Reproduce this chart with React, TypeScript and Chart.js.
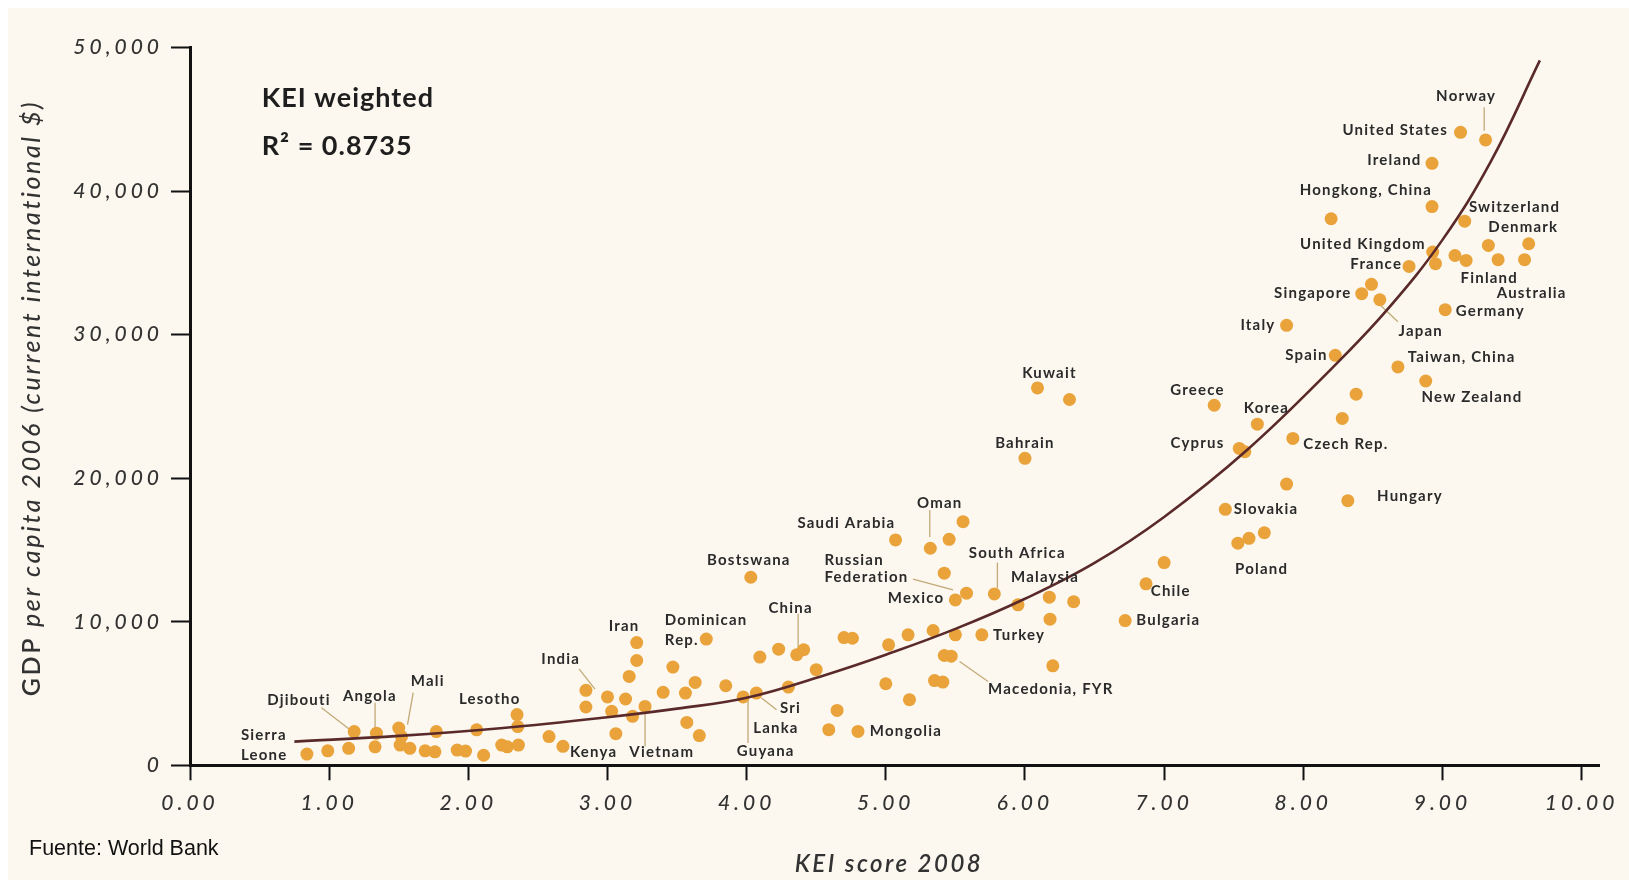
import React, { useEffect, useRef } from 'react';
import { Chart, registerables } from 'chart.js';

Chart.register(...registerables);

// ---------- DATA ----------
const keiScore = [
  0.84, 0.99, 1.14, 1.18, 1.33, 1.34, 1.50, 1.52, 1.51, 1.58,
  1.69, 1.76, 1.77, 1.92, 1.98, 2.06, 2.11, 2.24, 2.28, 2.35,
  2.355, 2.36, 2.58, 2.68, 2.845, 2.845, 3.00, 3.03, 3.06, 3.13,
  3.18, 3.27, 3.156, 3.21, 3.21, 3.40, 3.47, 3.56, 3.63, 3.57,
  3.66, 3.71, 3.85, 3.975, 4.07, 4.03, 4.095, 4.23, 4.36, 4.41,
  4.50, 4.30, 4.59, 4.65, 4.80, 4.70, 4.76, 5.00, 5.02, 5.16,
  5.17, 5.34, 5.35, 5.41, 5.42, 5.47, 5.50, 5.69, 5.50, 5.58,
  5.42, 5.07, 5.32, 5.455, 5.555, 5.78, 5.95, 6.00, 6.09, 6.32,
  6.175, 6.35, 6.18, 6.20, 6.72, 6.87, 7.00, 7.36, 7.44, 7.53,
  7.61, 7.72, 7.54, 7.58, 7.67, 7.88, 7.925, 8.28, 8.38, 8.32,
  8.23, 7.88, 8.68, 8.88, 8.49, 8.42, 8.55, 8.76, 8.93, 8.95,
  9.02, 9.09, 9.17, 9.33, 9.40, 9.62, 9.59, 9.16, 8.20, 8.925,
  8.925, 9.13, 9.31,
];

const gdpPerCapita = [
  780, 1010, 1180, 2350, 1290, 2240, 2590, 2000, 1410, 1180,
  1010, 940, 2350, 1060, 990, 2470, 700, 1410, 1290, 3530,
  2700, 1410, 2000, 1320, 5220, 4060, 4760, 3760, 2200, 4620,
  3410, 4100, 6190, 7300, 8550, 5080, 6840, 5030, 5770, 2990,
  2070, 8790, 5540, 4760, 5030, 13100, 7540, 8090, 7700, 8050,
  6660, 5450, 2480, 3820, 2360, 8900, 8850, 5680, 8390, 9090,
  4570, 9390, 5900, 5800, 7650, 7600, 9090, 9090, 11520, 11990,
  13380, 15700, 15120, 15740, 16970, 11940, 11180, 21380, 26290, 25480,
  11710, 11400, 10180, 6930, 10080, 12640, 14120, 25080, 17830, 15470,
  15810, 16200, 22070, 21840, 23760, 19590, 22770, 24160, 25850, 18430,
  28560, 30650, 27750, 26770, 33500, 32850, 32430, 34750, 35750, 34940,
  31740, 35510, 35170, 36210, 35220, 36330, 35220, 37900, 38070, 38920,
  41930, 44090, 43560,
];

// trend curve
const trendKei = [0.75, 1.5, 2.25, 3.0, 3.5, 4.0, 4.6, 5.0, 5.5, 6.0, 6.5, 7.0, 7.6, 8.2, 8.6, 9.0, 9.35, 9.7];
const trendGdp = [1650, 2050, 2600, 3350, 3950, 4700, 6400, 7700, 9500, 11600, 14100, 17300, 22000, 27600, 31700, 36600, 42100, 49100];

const xTickValues = [0, 1, 2, 3, 4, 5, 6, 7, 8, 9, 10];
const yTickValues = [0, 10000, 20000, 30000, 40000, 50000];

const labelText = [
  'Sierra', 'Leone', 'Djibouti', 'Angola', 'Mali', 'Lesotho', 'India', 'Kenya', 'Vietnam', 'Iran',
  'Dominican', 'Rep.', 'Bostswana', 'China', 'Sri', 'Lanka', 'Guyana', 'Mongolia', 'Saudi Arabia', 'Oman',
  'Russian', 'Federation', 'Mexico', 'South Africa', 'Malaysia', 'Turkey', 'Macedonia, FYR', 'Kuwait', 'Bahrain', 'Chile',
  'Bulgaria', 'Greece', 'Korea', 'Cyprus', 'Czech Rep.', 'Slovakia', 'Hungary', 'Poland', 'Spain', 'Italy',
  'Taiwan, China', 'New Zealand', 'Japan', 'Singapore', 'Germany', 'Australia', 'Finland', 'France', 'United Kingdom', 'Denmark',
  'Switzerland', 'Hongkong, China', 'Ireland', 'United States', 'Norway',
];
const labelKei = [
  0.366, 0.366, 0.783, 1.292, 1.708, 2.154, 2.664, 2.73, 3.39, 3.12,
  3.412, 3.412, 4.016, 4.316, 4.24, 4.047, 4.137, 4.885, 4.717, 5.388,
  4.56, 4.56, 5.42, 5.945, 5.90, 5.77, 5.735, 6.176, 6.0, 6.904,
  6.80, 7.24, 7.735, 7.24, 8.0, 7.50, 8.53, 7.51, 8.175, 7.80,
  8.75, 8.85, 8.685, 8.346, 9.095, 9.39, 9.13, 8.71, 8.88, 9.33,
  9.19, 8.45, 8.85, 9.04, 9.17,
];
const labelGdp = [
  2080, 716, 4520, 4830, 5890, 4590, 7400, 900, 900, 9710,
  10130, 8740, 14300, 10950, 3990, 2600, 970, 2360, 16900, 18290,
  14300, 13100, 11640, 14770, 13100, 9090, 5310, 27330, 22420, 12100,
  10080, 26130, 24850, 22420, 22370, 17830, 18760, 13660, 28560, 30650,
  28420, 25660, 30250, 32870, 31640, 32870, 33920, 34890, 36280, 37460,
  38870, 40030, 42120, 44210, 46640,
];
const labelAlign = [
  'left', 'left', 'center', 'center', 'center', 'center', 'center', 'left', 'center', 'center',
  'left', 'left', 'center', 'center', 'left', 'left', 'center', 'left', 'center', 'center',
  'left', 'left', 'right', 'center', 'left', 'left', 'left', 'center', 'center', 'left',
  'left', 'center', 'center', 'center', 'left', 'left', 'left', 'left', 'right', 'right',
  'left', 'left', 'left', 'right', 'left', 'left', 'left', 'right', 'right', 'left',
  'left', 'center', 'right', 'right', 'center',
];

// leader lines: from (kei, gdp) to (kei, gdp)
const leaderFromKei = [0.945, 1.33, 1.604, 2.797, 3.27, 4.107, 4.01, 4.37, 5.316, 5.196, 5.802, 5.53, 8.56, 9.30];
const leaderFromGdp = [4010, 4360, 5060, 6700, 3760, 4690, 4570, 10550, 17780, 12960, 14120, 7230, 32000, 45830];
const leaderToKei = [1.15, 1.33, 1.563, 2.91, 3.27, 4.215, 4.01, 4.37, 5.316, 5.483, 5.802, 5.735, 8.68, 9.30];
const leaderToGdp = [2480, 2480, 2830, 5310, 1320, 3870, 1560, 7930, 15900, 12220, 12340, 5840, 30900, 44200];

// ---------- STYLE ----------
const CANVAS_W = 1621;
const CANVAS_H = 872;
const CREAM = '#FCF8EF';
const DOT = '#E9A33A';
const TREND = '#5A2A2A';
const INK = '#2B2B2B';
const AXIS = '#111111';

const decorPlugin = {
  id: 'decor',
  beforeDraw(chart: any) {
    const { ctx, width, height } = chart;
    ctx.save();
    ctx.fillStyle = CREAM;
    ctx.fillRect(0, 0, width, height);
    ctx.restore();
    ctx.letterSpacing = '4px';
  },
  beforeDatasetsDraw(chart: any) {
    const { ctx } = chart;
    ctx.letterSpacing = '0px';
    const xs = chart.scales.x;
    const ys = chart.scales.y;
    ctx.save();
    ctx.strokeStyle = '#C2AA78';
    ctx.lineWidth = 1.3;
    for (let i = 0; i < leaderFromKei.length; i++) {
      ctx.beginPath();
      ctx.moveTo(xs.getPixelForValue(leaderFromKei[i]), ys.getPixelForValue(leaderFromGdp[i]));
      ctx.lineTo(xs.getPixelForValue(leaderToKei[i]), ys.getPixelForValue(leaderToGdp[i]));
      ctx.stroke();
    }
    ctx.restore();
  },
  afterDatasetsDraw(chart: any) {
    const { ctx } = chart;
    const xs = chart.scales.x;
    const ys = chart.scales.y;
    ctx.save();
    // country labels
    ctx.font = '700 15px Lato';
    ctx.fillStyle = INK;
    ctx.textBaseline = 'middle';
    ctx.letterSpacing = '1.2px';
    for (let i = 0; i < labelText.length; i++) {
      ctx.textAlign = labelAlign[i] as CanvasTextAlign;
      ctx.fillText(labelText[i], xs.getPixelForValue(labelKei[i]), ys.getPixelForValue(labelGdp[i]));
    }
    // annotation
    ctx.textAlign = 'left';
    ctx.font = '700 27px Lato';
    ctx.letterSpacing = '1px';
    ctx.fillStyle = '#1E1E1E';
    ctx.fillText('KEI weighted', 253.7, 90.3);
    ctx.fillText('R\u00B2 = 0.8735', 253.7, 138.7);

    // x title
    ctx.font = 'italic 600 24px Lato';
    ctx.letterSpacing = '2.5px';
    ctx.fillStyle = '#333333';
    ctx.textAlign = 'center';
    ctx.fillText('KEI score 2008', 881, 856);

    // y title (GDP upright, rest italic)
    ctx.translate(24, 390);
    ctx.rotate(-Math.PI / 2);
    const partA = 'GDP ';
    const partB = 'per capita 2006 (current international $)';
    ctx.letterSpacing = '2.6px';
    ctx.font = '600 25px Lato';
    const wA = ctx.measureText(partA).width;
    ctx.font = 'italic 500 25px Lato';
    const wB = ctx.measureText(partB).width;
    const start = -(wA + wB) / 2;
    ctx.textAlign = 'left';
    ctx.fillStyle = '#333333';
    ctx.font = '600 25px Lato';
    ctx.fillText(partA, start, 0);
    ctx.font = 'italic 500 25px Lato';
    ctx.fillText(partB, start + wA, 0);
    ctx.restore();

    // source note
    ctx.save();
    ctx.letterSpacing = '0px';
    ctx.font = '21.5px "Liberation Sans", Arial, sans-serif';
    ctx.fillStyle = '#111';
    ctx.textAlign = 'left';
    ctx.textBaseline = 'middle';
    ctx.fillText('Fuente: World Bank', 21, 841);
    ctx.restore();
  },
};

export default function App() {
  const canvasRef = useRef<HTMLCanvasElement | null>(null);

  useEffect(() => {
    const canvas = canvasRef.current;
    if (!canvas) return;

    const points = keiScore.map((k, i) => ({ x: k, y: gdpPerCapita[i] }));
    const trend = trendKei.map((k, i) => ({ x: k, y: trendGdp[i] }));

    const chart = new Chart(canvas, {
      type: 'scatter',
      data: {
        datasets: [
          {
            label: 'Trend',
            data: trend,
            showLine: true,
            borderColor: TREND,
            borderWidth: 2.6,
            pointRadius: 0,
            pointHoverRadius: 0,
            tension: 0.4,
            fill: false,
            order: 0,
          } as any,
          {
            label: 'Countries',
            data: points,
            pointRadius: 6.5,
            pointHoverRadius: 6.5,
            pointBackgroundColor: DOT,
            pointBorderWidth: 0,
            backgroundColor: DOT,
            borderColor: DOT,
            order: 1,
          } as any,
        ],
      },
      options: {
        animation: false,
        responsive: false,
        devicePixelRatio: 1,
        events: [],
        layout: { padding: { left: 0, right: 29.3, top: 39.5, bottom: 0 } },
        plugins: {
          legend: { display: false },
          title: { display: false },
          tooltip: { enabled: false },
        },
        scales: {
          x: {
            type: 'linear',
            min: 0,
            max: 10.13,
            afterBuildTicks: (scale: any) => {
              scale.ticks = xTickValues.map((v) => ({ value: v }));
            },
            afterFit: (scale: any) => {
              scale.height = 114.7;
            },
            ticks: {
              font: { family: 'Lato', size: 21, style: 'italic', weight: 500 },
              color: '#333333',
              padding: 10,
              maxRotation: 0,
              autoSkip: false,
              callback: (v: any) => Number(v).toFixed(2),
            },
            grid: {
              display: true,
              drawOnChartArea: false,
              drawTicks: true,
              tickLength: 15,
              tickWidth: 2,
              tickColor: AXIS,
              color: AXIS,
            },
            border: { display: true, color: AXIS, width: 3 },
          },
          y: {
            type: 'linear',
            min: 0,
            max: 50000,
            afterBuildTicks: (scale: any) => {
              scale.ticks = yTickValues.map((v) => ({ value: v }));
            },
            afterFit: (scale: any) => {
              scale.width = 182;
            },
            ticks: {
              font: { family: 'Lato', size: 21, style: 'italic', weight: 500 },
              color: '#333333',
              padding: 8,
              autoSkip: false,
              callback: (v: any) => Number(v).toLocaleString('en-US'),
            },
            grid: {
              display: true,
              drawOnChartArea: false,
              drawTicks: true,
              tickLength: 19,
              tickWidth: 2,
              tickColor: AXIS,
              color: AXIS,
            },
            border: { display: true, color: AXIS, width: 3 },
          },
        },
      } as any,
      plugins: [decorPlugin],
    });

    return () => {
      chart.destroy();
    };
  }, []);

  return (
    <div
      style={{
        position: 'fixed',
        left: 8,
        top: 8,
        width: CANVAS_W,
        height: CANVAS_H,
        background: CREAM,
      }}
    >
      <canvas ref={canvasRef} width={CANVAS_W} height={CANVAS_H} style={{ display: 'block' }} />
    </div>
  );
}
